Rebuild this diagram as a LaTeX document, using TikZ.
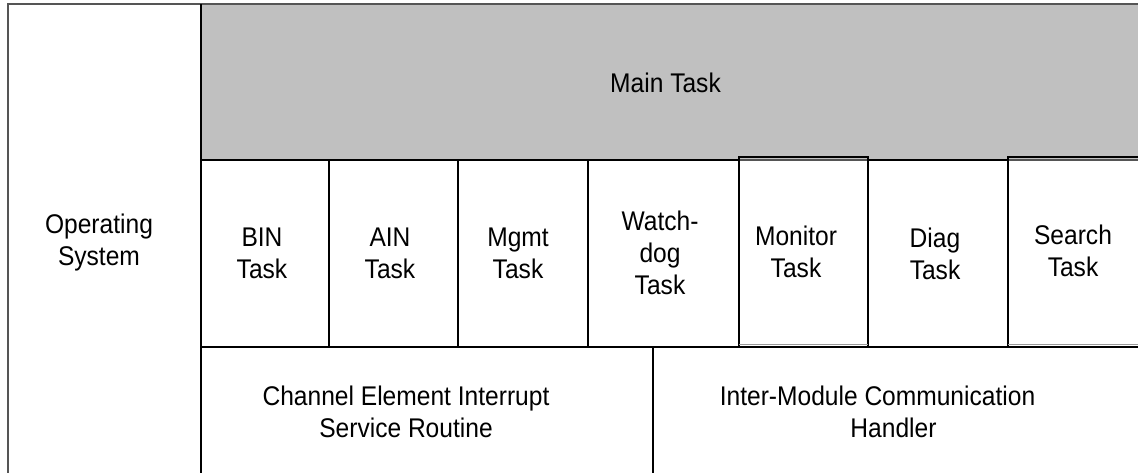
\documentclass[tikz,border=0pt]{standalone}
\usepackage{fontspec}
\setmainfont{Liberation Sans}[FakeStretch=0.91]
\definecolor{mainfill}{HTML}{C0C0C0}
\definecolor{rimgray}{HTML}{555555}
\definecolor{softgray}{HTML}{9A9A9A}
\tikzset{
  lbl/.style={align=center, inner sep=0pt, font=\fontsize{27}{32}\selectfont},
  cell/.style={draw=black, line width=1.1pt},
  rim/.style={draw=rimgray, line width=1.3pt},
}
\begin{document}
\begin{tikzpicture}[x=1pt,y=-1pt]
\useasboundingbox (0,0) rectangle (1138,472);
\clip (0,0) rectangle (1138,472);
\fill[white] (0,0) rectangle (1138,472);

% operating system column
\draw[rim] (8,4) rectangle (201,520);

% main task band
\draw[fill=mainfill, draw=rimgray, line width=1.5pt] (201,4) rectangle (1145,160);
\draw[black, line width=2pt] (201,4) -- (201,160);

% task row
\draw[cell] (201,160) rectangle (329,347);
\draw[cell] (329,160) rectangle (458,347);
\draw[cell] (458,160) rectangle (588,347);
\draw[cell] (588,160) rectangle (739,347);
\draw[cell] (868,160) rectangle (1008,347);
\draw[cell] (739,347) -- (868,347);
\draw[cell] (1008,347) -- (1145,347);
% raised boxes with a soft lower rule
\draw[cell] (739,344.5) -- (739,157) -- (868,157) -- (868,344.5);
\draw[cell] (1008,344.5) -- (1008,157) -- (1145,157);
\draw[softgray, line width=1pt] (739,344) -- (868,344);
\draw[softgray, line width=1pt] (1008,344) -- (1145,344);

% lower services
\draw[cell] (201,347) rectangle (653,520);
\draw[cell] (653,347) rectangle (1145,520);

% labels
\node[lbl] (os)   at (99,242.5)    {Operating\\System};
\node[lbl] (main) at (665.5,82.7)  {Main Task};
\node[lbl] (bin)  at (262,253)     {BIN\\Task};
\node[lbl] (ain)  at (390,253)     {AIN\\Task};
\node[lbl] (mgmt) at (518,253)     {Mgmt\\Task};
\node[lbl] (wdog) at (660,252.5)   {Watch-\\dog\\Task};
\node[lbl] (mon)  at (796,251.5)   {Monitor\\Task};
\node[lbl] (diag) at (935,253.5)   {Diag\\Task};
\node[lbl] (srch) at (1073,251)    {Search\\Task};
\node[lbl] (isr)  at (406,412)     {Channel Element Interrupt\\Service Routine};
\node[lbl] (imc)  at (893.5,412)   {Inter-Module Communication\hspace*{32pt}\\Handler};
\end{tikzpicture}
\end{document}
